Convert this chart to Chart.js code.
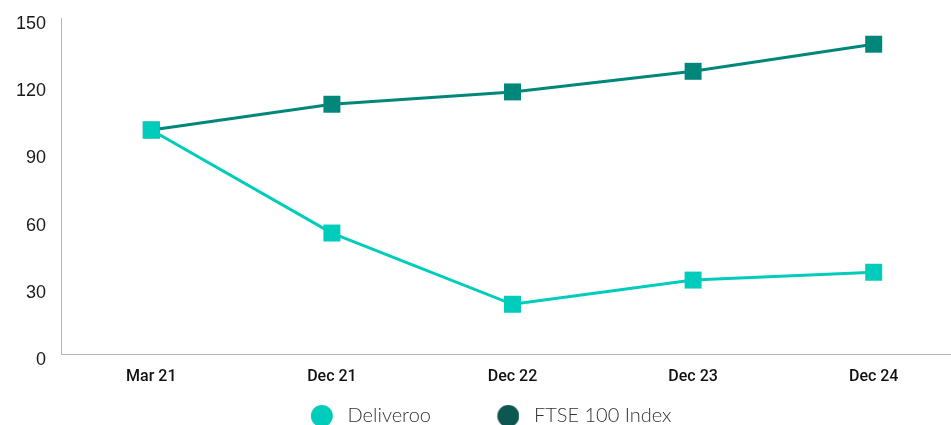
<!doctype html>
<html lang="en">
<head>
  <meta charset="utf-8">
  <title>Deliveroo vs FTSE 100</title>
  <style>
    html, body {
      margin: 0;
      padding: 0;
      background: #ffffff;
    }
    .wrap {
      position: relative;
      width: 951px;
      height: 425px;
      overflow: hidden;
    }
    #chart {
      position: absolute;
      left: -60px;
      top: 0;
    }
  </style>
</head>
<body>
  <div class="wrap">
    <canvas id="chart" width="1036" height="436"></canvas>
  </div>
  <script src="https://cdn.jsdelivr.net/npm/chart.js@4.4.0/dist/chart.umd.min.js"></script>
  <script>
    // values (indexed, Mar 21 = 100)
    const periods = ['Mar 21', 'Dec 21', 'Dec 22', 'Dec 23', 'Dec 24'];
    const deliveroo = [100, 54, 22.2, 33, 36.5];
    const ftse100 = [100, 111.5, 117, 126.2, 138.3];
    const seriesNames = ['Deliveroo', 'FTSE 100 Index'];

    const lightTeal = '#00ccbc';
    const darkTeal = '#00877a';
    const legendDark = '#0e5751';

    // legend dot: drawn off-centre so the circle sits close to its text
    const BOX_W = 83;
    const LEGEND_FONT = 20;
    function makeDot(color) {
      const r = 11;
      const off = BOX_W / 2 - (25.7 - LEGEND_FONT / 2);
      const c = document.createElement('canvas');
      c.width = Math.ceil(2 * (off + r));
      c.height = 2 * r;
      const g = c.getContext('2d');
      g.fillStyle = color;
      g.beginPath();
      g.arc(c.width / 2 + off, r, r, 0, Math.PI * 2);
      g.fill();
      return c;
    }
    const dots = [makeDot(lightTeal), makeDot(legendDark)];
    const dotColors = [lightTeal, legendDark];

    const ctx = document.getElementById('chart').getContext('2d');
    const chart = new Chart(ctx, {
      type: 'line',
      data: {
        labels: periods,
        datasets: [{
          label: seriesNames[0],
          data: deliveroo,
          borderColor: lightTeal,
          backgroundColor: lightTeal,
          borderWidth: 3,
          pointStyle: 'rect',
          pointRadius: 12,
          pointHoverRadius: 12,
          pointBorderWidth: 0,
          tension: 0
        }, {
          label: seriesNames[1],
          data: ftse100,
          borderColor: darkTeal,
          backgroundColor: darkTeal,
          borderWidth: 3,
          pointStyle: 'rect',
          pointRadius: 12,
          pointHoverRadius: 12,
          pointBorderWidth: 0,
          tension: 0
        }]
      },
      options: {
        responsive: false,
        animation: false,
        layout: {
          padding: { left: 10, top: 18, right: 0, bottom: 0 }
        },
        plugins: {
          tooltip: { enabled: false },
          legend: {
            position: 'bottom',
            labels: {
              usePointStyle: true,
              pointStyleWidth: BOX_W,
              padding: 10,
              color: '#333333',
              font: { family: 'Lato', weight: '300', size: LEGEND_FONT },
              generateLabels: (c) => c.data.datasets.map((ds, i) => ({
                text: ds.label,
                pointStyle: dots[i],
                fillStyle: dotColors[i],
                strokeStyle: dotColors[i],
                lineWidth: 0,
                fontColor: '#333333',
                hidden: !c.isDatasetVisible(i),
                datasetIndex: i
              }))
            }
          }
        },
        scales: {
          x: {
            offset: true,
            grid: { display: false, drawTicks: false },
            border: { display: true, color: '#b3b3b3', width: 1 },
            ticks: {
              padding: 13,
              color: '#111111',
              font: { family: 'Roboto', weight: '500', size: 16 }
            },
            afterFit: (scale) => { scale.height = 42; }
          },
          y: {
            min: 0,
            max: 150,
            grid: { display: false, drawTicks: false },
            border: { display: true, color: '#b3b3b3', width: 1 },
            ticks: {
              stepSize: 30,
              padding: 15,
              labelOffset: 6,
              color: '#1a1a1a',
              font: { family: "'Liberation Sans Narrow', 'Liberation Sans'", size: 18 }
            },
            afterFit: (scale) => {
              scale.width = 111;
              scale.paddingTop = 0;
              scale.paddingBottom = 0;
            }
          }
        }
      }
    });
  </script>
</body>
</html>
